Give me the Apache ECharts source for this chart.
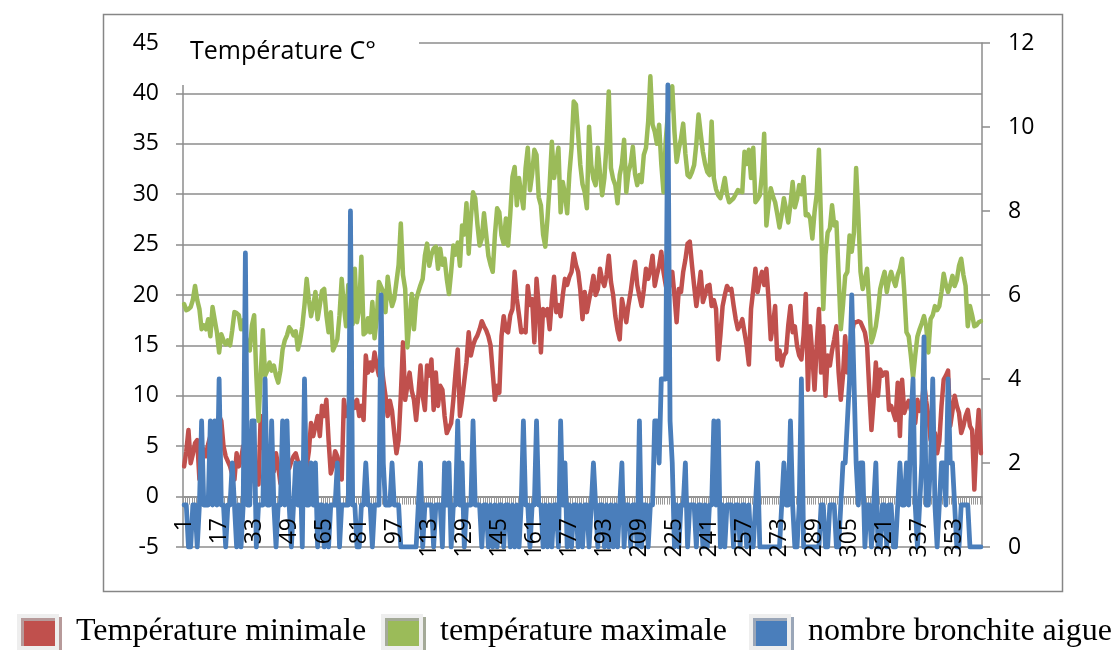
<!DOCTYPE html>
<html>
<head>
<meta charset="utf-8">
<script src="https://cdn.jsdelivr.net/npm/echarts@6/dist/echarts.min.js"></script>
<style>
html,body{margin:0;padding:0;background:#fff;}
#c{width:1112px;height:650px;}
</style>
</head>
<body>
<div id="c"></div>
<script>
// Days of the year (category axis)
const days = [];
for (let i = 1; i <= 365; i++) days.push(String(i));

const seriesNames = ['Température minimale', 'température maximale', 'nombre bronchite aigue'];
const yTitle = 'Température C°';

// Minimum temperature (°C)
const tMin = [
 3.0,4.5,6.6,3.3,4.2,5.3,5.6,1.7,3.5,4.7,
 4.0,5.2,6.0,5.0,6.5,7.3,8.0,7.5,5.0,4.0,
 3.5,3.0,2.2,1.7,4.3,3.0,3.7,5.0,3.2,2.0,
 4.0,3.0,1.5,2.5,1.2,8.0,5.6,4.0,4.5,3.0,
 3.5,2.5,4.3,3.0,1.3,2.5,4.0,3.3,2.8,3.5,
 4.0,4.3,3.5,2.5,2.3,1.5,3.0,4.5,7.3,6.0,
 7.0,8.0,6.0,9.0,8.0,9.6,5.6,2.3,3.0,4.5,
 4.0,3.0,1.7,9.6,8.0,8.6,9.0,9.5,8.8,9.6,
 8.0,9.0,7.6,14.0,12.3,13.3,12.5,14.3,13.0,12.0,
 13.5,11.6,10.0,8.0,9.5,8.5,6.3,4.3,5.6,10.0,
 15.3,9.6,11.0,12.3,10.5,9.6,7.6,10.0,13.0,10.0,
 8.6,13.0,12.0,13.6,8.6,12.3,9.0,11.0,10.6,8.0,
 6.3,6.8,7.3,9.6,12.3,14.6,8.0,9.6,11.5,13.3,
 16.3,14.0,15.0,15.6,16.0,16.6,17.4,16.9,16.5,15.9,
 15.0,12.3,9.6,11.0,10.3,15.9,17.9,16.5,16.3,18.0,
 18.6,22.3,19.6,18.0,16.3,16.5,16.3,20.9,19.0,19.6,
 15.3,21.6,18.9,14.3,18.6,18.0,18.6,16.6,19.5,21.8,
 18.3,19.0,17.9,20.0,21.6,21.0,21.8,22.3,24.1,23.0,
 22.3,20.5,17.6,20.3,18.3,19.5,20.6,21.9,20.0,20.6,
 22.6,21.5,20.9,22.0,23.9,21.3,20.0,17.9,16.5,15.6,
 19.6,18.5,17.3,19.0,20.3,22.0,23.3,21.0,19.9,18.9,
 20.5,22.6,21.6,22.5,23.9,20.9,22.0,22.9,24.3,22.3,
 21.0,20.0,21.5,22.3,20.0,17.3,20.6,20.3,22.3,23.5,
 25.1,25.3,23.0,20.9,18.9,20.5,22.3,19.3,20.0,20.9,
 21.0,18.9,19.5,18.6,13.6,16.0,18.9,20.0,20.9,20.5,
 20.6,19.0,17.6,16.6,17.0,17.6,16.3,15.0,13.1,18.6,
 20.5,22.6,20.3,21.5,22.3,21.0,22.6,19.6,15.6,17.0,
 18.9,13.6,14.5,13.0,14.0,14.3,17.0,18.9,16.3,16.9,
 15.0,14.0,13.6,16.0,20.1,10.6,16.9,14.0,10.6,15.0,
 18.6,12.3,16.9,10.0,14.0,13.0,14.5,15.6,16.9,12.3,
 9.6,12.0,15.9,12.3,14.5,16.0,17.3,17.3,17.4,17.3,
 16.8,16.3,15.0,10.6,6.6,9.5,13.3,10.0,12.6,12.0,
 12.3,12.3,8.6,9.0,8.3,7.6,11.3,6.0,11.6,8.3,
 9.0,9.5,8.6,8.0,7.3,9.6,8.5,9.0,11.3,9.5,
 8.0,5.6,6.0,6.3,4.3,5.5,9.0,11.6,12.0,12.5,
 7.0,8.5,10.0,9.0,8.3,6.3,7.0,8.0,8.6,7.0,
 6.6,0.7,5.6,8.6,4.3
];

// Maximum temperature (°C)
const tMax = [
 19.1,18.5,18.6,18.8,19.5,20.9,19.5,18.6,16.6,17.0,
 16.6,17.6,15.9,18.8,17.5,16.3,14.3,16.1,15.5,15.1,
 15.5,15.0,16.5,18.3,18.2,18.0,16.6,17.5,16.0,15.0,
 14.5,17.0,18.0,12.0,7.5,12.0,16.5,12.0,12.5,13.3,
 12.5,13.0,12.0,11.3,12.5,14.6,15.5,16.0,16.8,16.5,
 16.0,16.4,14.6,15.5,16.9,19.0,21.6,19.5,17.9,19.0,
 20.3,17.6,19.0,20.4,20.6,18.0,16.3,18.3,14.5,15.0,
 15.6,18.0,21.6,18.9,16.9,21.0,20.5,17.1,22.6,17.3,
 18.7,23.8,16.1,16.3,17.7,16.3,19.3,15.7,17.6,21.3,
 20.8,20.3,18.3,21.8,20.0,18.9,19.6,21.3,23.0,27.1,
 22.0,20.6,14.8,17.5,20.1,16.6,19.5,20.3,21.0,21.6,
 23.9,25.1,22.9,24.0,24.6,24.8,22.6,24.6,23.0,23.6,
 21.6,20.1,22.3,24.9,24.0,25.2,22.9,26.9,26.0,29.1,
 24.1,27.6,30.2,29.6,27.0,24.9,25.6,28.1,26.0,23.9,
 23.0,22.3,26.0,28.6,28.2,25.9,25.1,27.6,24.9,28.0,
 31.7,32.7,28.9,31.6,30.0,28.6,32.6,34.6,30.4,32.0,
 34.4,33.9,29.7,28.9,26.0,24.8,27.6,31.0,35.2,31.6,
 33.0,34.6,28.2,31.2,30.0,28.1,32.0,34.6,39.2,38.9,
 36.0,32.9,31.0,30.2,28.6,36.7,32.9,31.5,30.9,34.6,
 32.0,29.9,31.6,35.0,40.2,32.6,31.5,30.9,29.1,31.9,
 33.0,35.4,30.2,32.2,33.0,34.7,32.0,30.9,31.9,31.2,
 33.9,34.6,37.2,41.7,36.9,36.2,35.0,36.9,33.0,30.2,
 35.2,38.0,39.0,40.7,36.2,33.2,34.5,35.5,37.0,34.0,
 31.9,31.7,32.2,32.9,35.0,37.9,36.0,34.2,33.0,32.2,
 31.9,37.2,31.6,30.5,29.9,29.6,30.5,31.6,30.0,29.2,
 29.4,29.6,30.0,30.4,30.3,30.2,34.2,33.0,34.4,31.6,
 34.6,29.2,29.5,29.9,32.0,36.0,26.9,29.0,30.6,29.8,
 29.2,28.0,26.7,28.0,29.6,28.5,27.2,29.0,31.2,28.7,
 29.5,30.9,30.0,31.7,27.9,28.0,27.6,25.6,28.2,30.0,
 34.4,27.0,18.6,24.0,26.2,26.6,28.9,26.9,27.2,22.0,
 16.6,19.0,21.9,22.3,25.9,24.3,26.2,32.6,28.0,22.3,
 20.6,21.5,22.6,19.0,15.3,16.0,16.9,18.5,20.6,21.5,
 22.3,20.3,21.5,22.3,21.5,20.9,22.0,22.6,23.6,20.3,
 16.3,15.9,14.0,11.8,14.0,15.9,16.6,17.2,17.9,16.9,
 14.3,17.6,18.0,18.9,18.5,18.9,20.3,22.1,21.0,20.3,
 21.0,21.9,20.9,21.5,22.9,23.6,22.0,20.9,16.9,18.9,
 18.0,16.9,17.0,17.3,17.4
];

// Number of acute bronchitis cases (right axis)
const bronchite = [
 1,1,0,0,1,1,0,1,3,1,
 1,1,3,1,3,1,4,1,1,0,
 1,1,2,1,0,1,0,1,7,1,
 1,3,3,0,1,1,1,4,1,1,
 3,1,0,1,1,3,1,3,1,0,
 1,2,1,2,0,4,1,1,2,1,
 2,0,1,1,0,1,0,1,1,1,
 2,0,1,1,1,1,8,1,1,0,
 0,1,1,2,1,1,0,1,1,1,
 6,2,1,1,1,2,1,1,1,0,
 0,0,0,0,0,0,0,1,2,0,
 1,1,1,1,0,1,1,1,0,2,
 1,2,0,1,1,3,1,2,0,1,
 1,1,3,1,1,1,0,1,1,0,
 1,0,1,0,1,1,0,1,1,0,
 1,0,1,0,1,3,1,1,0,1,
 1,3,1,1,0,1,0,1,0,1,
 1,0,3,1,2,0,1,0,1,1,
 0,1,0,1,1,0,1,2,1,0,
 1,1,0,1,0,1,0,1,0,1,
 2,0,1,1,0,1,1,0,3,0,
 1,1,0,1,1,3,3,2,4,4,
 4,11,3,2,0,1,0,1,1,2,
 0,1,1,1,0,1,1,0,1,0,
 1,1,3,1,3,0,1,0,1,1,
 1,0,1,1,0,1,1,0,1,0,
 0,1,2,0,0,0,0,0,0,0,
 0,0,0,1,2,1,1,3,1,0,
 0,1,4,0,0,0,0,0,0,0,
 0,1,1,0,0,1,1,1,0,0,
 1,2,2,3,4,6,4,2,1,2,
 2,0,1,1,0,1,2,0,0,1,
 1,0,1,1,0,0,1,2,1,1,
 2,1,3,4,1,0,1,2,5,1,
 1,2,4,1,0,1,2,2,1,4,
 2,2,1,0,0,1,1,1,1,0,
 0,0,0,0,0
];

// Axis tick settings
const leftMin = -5, leftMax = 45, leftStep = 5;
const rightMin = 0, rightMax = 12, rightStep = 2;
const labelEvery = 16;

const colors = ['#C0504D', '#9BBB59', '#4A7EBB'];
const sansFont = 'Open Sans';
const serifFont = 'Liberation Serif';

const chart = echarts.init(document.getElementById('c'), null, {renderer: 'canvas'});

function legendFor(idx, left, shadow) {
  return {
    data: [seriesNames[idx]],
    left: left,
    top: 609,
    icon: 'rect',
    itemWidth: 38,
    itemHeight: 32,
    itemStyle: {
      borderColor: '#eeeeee',
      borderWidth: 4,
      shadowColor: shadow,
      shadowOffsetX: 3,
      shadowOffsetY: 3,
      shadowBlur: 0
    },
    textStyle: {
      fontFamily: serifFont,
      fontSize: 32,
      color: '#000',
      padding: [0, 0, 0, 14]
    }
  };
}

chart.setOption({
  animation: false,
  backgroundColor: '#fff',
  color: colors,
  grid: {left: 183, right: 130, top: 43, bottom: 103, containLabel: false},
  legend: [
    legendFor(0, 12, '#b79a9a'),
    legendFor(1, 376, '#a4aa98'),
    legendFor(2, 744, '#9aa6b8')
  ],
  xAxis: [
    {
      type: 'category',
      data: days,
      boundaryGap: true,
      axisLine: {onZero: true, onZeroAxisIndex: 0, lineStyle: {color: '#8c8c8c', width: 1.5}},
      axisTick: {show: true, interval: 0, length: 8, lineStyle: {color: '#9a9a9a', width: 1}},
      axisLabel: {show: false},
      splitLine: {show: false}
    },
    {
      type: 'category',
      data: days,
      boundaryGap: true,
      position: 'bottom',
      z: 20,
      axisLine: {show: false, onZero: false},
      axisTick: {show: false},
      axisLabel: {interval: labelEvery - 1, rotate: 90, margin: -29, fontSize: 23, fontFamily: sansFont, color: '#000'},
      splitLine: {show: false}
    }
  ],
  yAxis: [
    {
      type: 'value', min: leftMin, max: leftMax, interval: leftStep, position: 'left',
      axisLine: {show: true, lineStyle: {color: '#8c8c8c', width: 1.5}},
      axisTick: {show: true, length: 7, lineStyle: {color: '#8c8c8c', width: 1.5}},
      axisLabel: {margin: 24, fontSize: 23, fontFamily: sansFont, color: '#000'},
      splitLine: {show: true, lineStyle: {color: '#8c8c8c', width: 1.5}}
    },
    {
      type: 'value', min: rightMin, max: rightMax, interval: rightStep, position: 'right',
      axisLine: {show: true, lineStyle: {color: '#8c8c8c', width: 1.5}},
      axisTick: {show: true, length: 8, lineStyle: {color: '#8c8c8c', width: 1.5}},
      axisLabel: {margin: 26, align: 'left', fontSize: 23, fontFamily: sansFont, color: '#000'},
      splitLine: {show: false}
    }
  ],
  series: [
    {name: seriesNames[0], type: 'line', data: tMin, xAxisIndex: 0, yAxisIndex: 0, showSymbol: false, symbol: 'none',
     lineStyle: {width: 4.5, color: colors[0], join: 'round', cap: 'round'}, itemStyle: {color: colors[0]}, z: 2},
    {name: seriesNames[1], type: 'line', data: tMax, xAxisIndex: 0, yAxisIndex: 0, showSymbol: false, symbol: 'none',
     lineStyle: {width: 4.5, color: colors[1], join: 'round', cap: 'round'}, itemStyle: {color: colors[1]}, z: 3},
    {name: seriesNames[2], type: 'line', data: bronchite, xAxisIndex: 0, yAxisIndex: 1, showSymbol: false, symbol: 'none',
     lineStyle: {width: 4.8, color: colors[2], join: 'round', cap: 'round'}, itemStyle: {color: colors[2]}, z: 4}
  ],
  graphic: [
    {type: 'rect', z: -1, silent: true,
     shape: {x: 103.5, y: 14.5, width: 959, height: 577},
     style: {fill: 'none', stroke: '#868686', lineWidth: 1.5}},
    {type: 'rect', z: 50, silent: true,
     shape: {x: 175, y: 30, width: 244, height: 55},
     style: {fill: '#fff'}},
    {type: 'text', z: 51, silent: true, left: 190, top: 39,
     style: {text: yTitle, fontSize: 25, fontFamily: sansFont, fill: '#000'}}
  ]
});
</script>
</body>
</html>
